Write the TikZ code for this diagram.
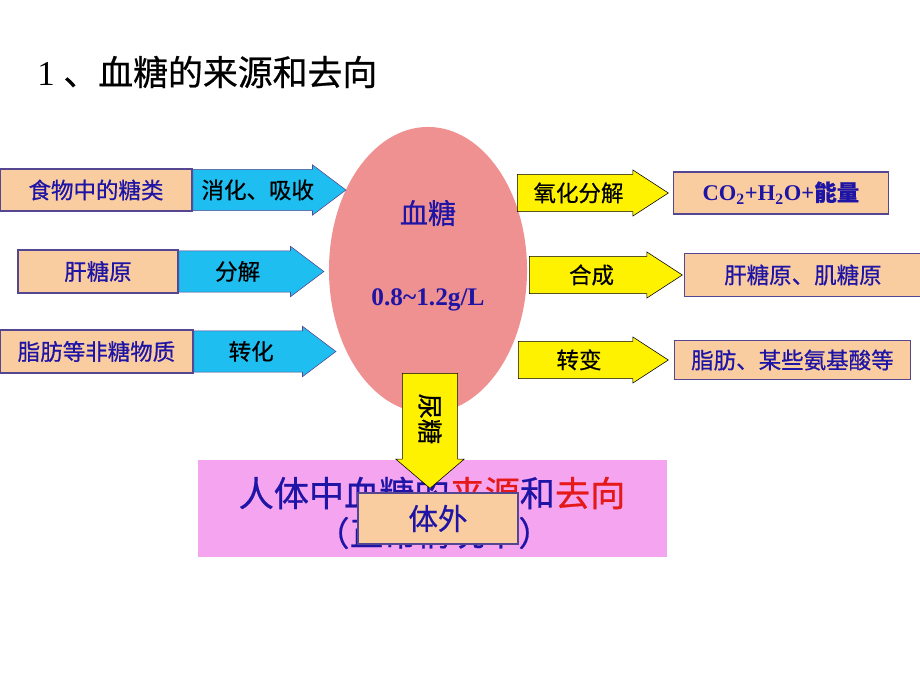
\documentclass[tikz,border=0pt]{standalone}
\usepackage{fontspec}
\setmainfont{Noto Sans CJK SC}[FakeBold=0.6]
\newfontfamily\tnr{Liberation Serif}
\usepackage{tikz}
\usetikzlibrary{positioning, shapes.geometric, shapes.arrows}
\definecolor{tan}{RGB}{250,205,160}
\definecolor{edge}{RGB}{85,70,145}
\definecolor{ink}{RGB}{30,20,165}
\definecolor{sky}{RGB}{30,190,240}
\definecolor{blush}{RGB}{240,145,145}
\definecolor{orchid}{RGB}{245,165,240}
\definecolor{alert}{RGB}{230,25,25}
\tikzset{
box/.style={draw=edge, thick, fill=tan, text=ink, inner sep=0pt, font=\fontsize{16pt}{19pt}\selectfont}, % boxes with the substances
inarrow/.style={single arrow, draw=edge, fill=sky, anchor=tail, inner xsep=2pt, inner ysep=6.5pt,
  text height=14pt, text depth=2pt, single arrow head extend=3.2pt, single arrow tip angle=74,
  font=\fontsize{16pt}{19pt}\selectfont}, % arrows into the blood
outarrow/.style={single arrow, draw=black, fill=yellow, anchor=tail, inner xsep=2pt, inner ysep=5pt,
  text height=14pt, text depth=2pt, single arrow head extend=3.2pt, single arrow tip angle=66,
  font=\fontsize{16pt}{19pt}\selectfont}, % arrows out of the blood
}

\begin{document}
\begin{tikzpicture}[x=0.025cm, y=-0.025cm]
    \useasboundingbox[fill=white] (0,0) rectangle (920,690);
    % title
    \node[anchor=west, inner sep=0pt, font=\fontsize{24.8pt}{28pt}\selectfont] (title) at (37,72)
        {{\tnr 1}\hspace{0.25em}、血糖的来源和去向};

    % blood sugar in the middle
    \node[ellipse, fill=blush, minimum width=4.95cm, minimum height=7.15cm] (blood) at (428,270) {};
    \node[text=ink, font=\fontsize{20pt}{24pt}\selectfont] (bname) at (428,213) {血糖};
    \node[text=ink, font=\fontsize{18pt}{22pt}\selectfont\tnr\bfseries] (bconc) at (428,300) {0.8\textasciitilde 1.2g/L};

    % sources
    \node[box, minimum width=4.8cm, minimum height=1.05cm] (food) at (96,190) {食物中的糖类};
    \node[box, minimum width=4cm, minimum height=1.075cm] (liver) at (98,271.5) {肝糖原};
    \node[box, minimum width=4.825cm, minimum height=1.075cm] (fat) at (96.5,351.5) {脂肪等非糖物质};
    \node[inarrow, minimum height=3.825cm] (digest) at (food.east) {\hspace{3pt}消化、吸收};
    \node[inarrow, minimum height=3.625cm] (split) at (liver.east) {分解};
    \node[inarrow, minimum height=3.55cm] (convert) at (fat.east) {转化};

    % sinks
    \node[outarrow, minimum height=3.775cm] (oxid) at (517,193) {氧化分解};
    \node[outarrow, minimum height=3.825cm] (build) at (529,275) {合成};
    \node[outarrow, minimum height=3.75cm] (change) at (518,360) {转变};
    \node[box, minimum width=5.375cm, minimum height=1.05cm, right=0.1cm of oxid.tip] (energy)
        {\tnr\bfseries CO\textsubscript{2}+H\textsubscript{2}O+{\rmfamily 能量}};
    \node[box, minimum width=5.925cm, minimum height=1.075cm, right=0.025cm of build.tip] (glycogen) {肝糖原、肌糖原};
    \node[box, minimum width=5.9cm, minimum height=0.975cm, right=0.125cm of change.tip] (fats) {脂肪、某些氨基酸等};

    % summary
    \node[fill=orchid, minimum width=11.725cm, minimum height=2.425cm] (summary) at (432.5,508.5) {};
    \node[text=ink, font=\fontsize{25pt}{30pt}\selectfont] (sumtitle) at (432,493)
        {人体中血糖的{\color{alert}来源}和{\color{alert}去向}};
    \node[text=ink, font=\fontsize{24pt}{28pt}\selectfont] (sumnote) at (434,533) {（正常情况下）};

    % urine
    \node[outarrow, rotate=-90, minimum height=2.875cm, inner ysep=10.5pt, single arrow head extend=4.6pt,
        single arrow tip angle=99, font=\fontsize{18pt}{22pt}\selectfont, text height=15.8pt, text depth=2.2pt] (urine) at (430,373) {尿糖};
    \node[box, minimum width=4cm, minimum height=1.275cm, font=\fontsize{21pt}{25pt}\selectfont] (outside) at (438,518.5) {体外};
\end{tikzpicture}
\end{document}
